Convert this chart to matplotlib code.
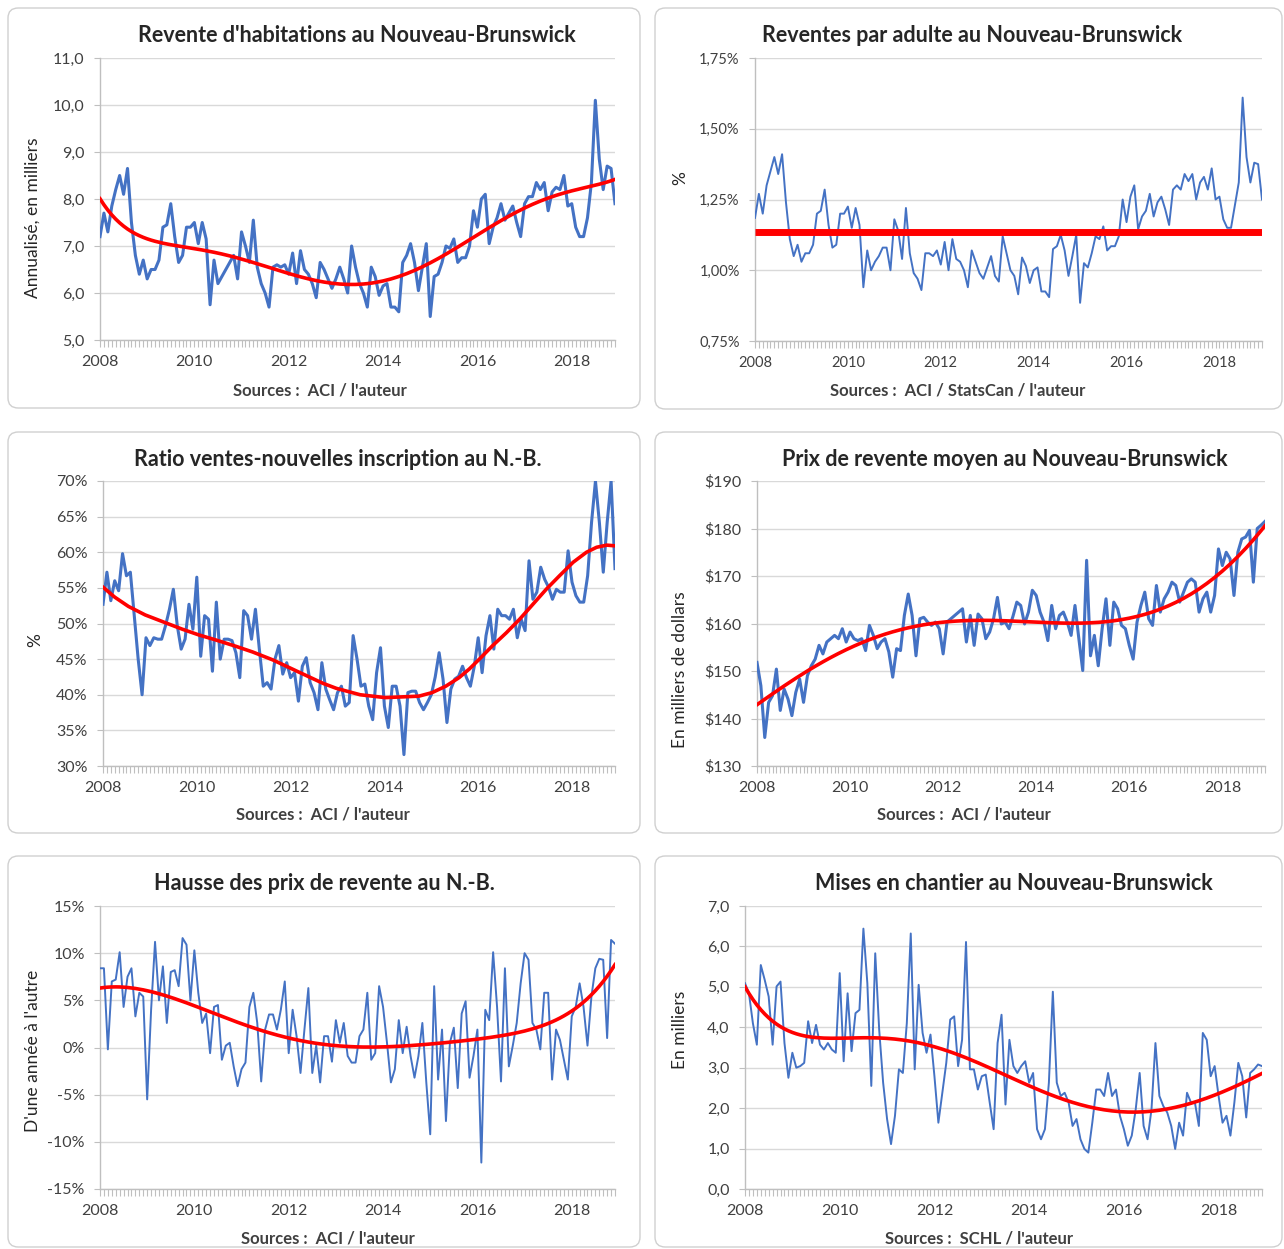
import numpy as np
import matplotlib
matplotlib.use("Agg")
import matplotlib.pyplot as plt
from matplotlib.patches import FancyBboxPatch
from matplotlib.ticker import FuncFormatter, FixedLocator

plt.rcParams['font.family'] = ['Lato', 'DejaVu Sans']

# ---------------- data (monthly, Jan 2008 - Dec 2018) ----------------
years = [2008, 2010, 2012, 2014, 2016, 2018]

resales_k = [
    7.2, 7.7, 7.3, 7.85, 8.2, 8.5, 8.1, 8.65, 7.5, 6.8, 6.4, 6.7,
    6.3, 6.5, 6.5, 6.7, 7.4, 7.45, 7.9, 7.2, 6.65, 6.8, 7.4, 7.4,
    7.5, 7.05, 7.5, 7.15, 5.75, 6.7, 6.2, 6.35, 6.5, 6.65, 6.8, 6.3,
    7.3, 7.0, 6.65, 7.55, 6.55, 6.2, 6.0, 5.7, 6.55, 6.6, 6.55, 6.6,
    6.4, 6.85, 6.2, 6.9, 6.5, 6.4, 6.2, 5.9, 6.65, 6.5, 6.3, 6.1,
    6.3, 6.55, 6.3, 6.0, 7.0, 6.55, 6.2, 6.0, 5.7, 6.55, 6.35, 5.95,
    6.15, 6.2, 5.7, 5.7, 5.6, 6.65, 6.8, 7.05, 6.65, 6.05, 6.55, 7.05,
    5.5, 6.35, 6.4, 6.65, 7.0, 6.95, 7.15, 6.65, 6.75, 6.75, 7.0, 7.75,
    7.4, 8.0, 8.1, 7.05, 7.4, 7.6, 7.9, 7.55, 7.7, 7.85, 7.5, 7.2,
    7.9, 8.05, 8.05, 8.35, 8.2, 8.35, 7.75, 8.15, 8.25, 8.2, 8.5, 7.85,
    7.9, 7.4, 7.2, 7.2, 7.6, 8.35, 10.1, 8.85, 8.2, 8.7, 8.65, 7.9,
]

resales_per_adult = [
    1.185, 1.27, 1.20, 1.30, 1.35, 1.40, 1.34, 1.41, 1.24, 1.11, 1.05, 1.09,
    1.03, 1.06, 1.06, 1.09, 1.20, 1.21, 1.285, 1.16, 1.08, 1.09, 1.20, 1.20,
    1.225, 1.15, 1.22, 1.16, 0.94, 1.07, 1.00, 1.03, 1.05, 1.08, 1.08, 1.00,
    1.18, 1.14, 1.04, 1.22, 1.06, 0.99, 0.97, 0.93, 1.06, 1.06, 1.05, 1.07,
    1.02, 1.10, 1.00, 1.11, 1.04, 1.03, 1.00, 0.94, 1.07, 1.03, 0.99, 0.97,
    1.01, 1.05, 0.98, 0.96, 1.12, 1.06, 1.00, 0.98, 0.915, 1.045, 1.015, 0.955,
    1.00, 1.01, 0.925, 0.925, 0.905, 1.075, 1.085, 1.125, 1.07, 0.98, 1.05, 1.125,
    0.885, 1.025, 1.01, 1.06, 1.12, 1.11, 1.155, 1.07, 1.085, 1.085, 1.12, 1.25,
    1.17, 1.26, 1.30, 1.145, 1.19, 1.21, 1.27, 1.19, 1.24, 1.26, 1.215, 1.16,
    1.285, 1.30, 1.285, 1.34, 1.315, 1.34, 1.25, 1.31, 1.33, 1.285, 1.36, 1.25,
    1.26, 1.18, 1.15, 1.15, 1.23, 1.31, 1.61, 1.40, 1.31, 1.38, 1.375, 1.25,
]
per_adult_average = 1.135

sales_to_listings = [
    52.7, 57.2, 53.2, 56.0, 54.6, 59.8, 56.7, 57.2, 51.1, 45.0, 40.0, 48.0,
    46.9, 48.0, 47.8, 47.8, 49.7, 52.0, 54.8, 49.7, 46.4, 47.8, 52.7, 49.2,
    56.5, 45.4, 51.1, 50.6, 43.3, 53.0, 45.0, 47.8, 47.8, 47.6, 45.9, 42.4,
    51.8, 51.1, 47.8, 52.0, 46.4, 41.2, 41.7, 40.8, 45.0, 46.9, 42.9, 44.5,
    42.4, 43.1, 39.1, 44.0, 45.2, 41.7, 40.3, 37.9, 44.5, 40.8, 39.3, 37.9,
    40.3, 41.2, 38.4, 38.9, 48.3, 45.0, 41.2, 41.5, 38.4, 36.5, 43.1, 46.6,
    38.4, 35.4, 41.2, 41.2, 38.4, 31.6, 40.3, 40.5, 40.5, 38.9, 37.9, 38.9,
    40.0, 42.5, 45.9, 42.2, 36.1, 40.8, 42.2, 42.6, 44.0, 42.4, 41.2, 44.0,
    48.0, 43.1, 48.3, 51.1, 46.4, 52.0, 51.1, 51.1, 50.6, 52.0, 48.0, 50.6,
    49.0, 58.8, 53.4, 54.4, 57.9, 56.2, 55.1, 53.4, 54.8, 54.4, 54.4, 60.2,
    55.8, 53.9, 53.0, 53.0, 56.7, 64.2, 70.0, 64.2, 57.2, 64.2, 70.0, 57.7,
]
# trend line (month index, value)
sales_to_listings_trend_month = [0, 3, 6.5, 10.8, 16, 20.3, 24.5, 28.8, 34, 38.3, 43.4,
                                 47.7, 51.2, 56.3, 59.7, 65.8, 72.2, 80.8, 84.2,
                                 87.7, 91.1, 93.7, 96.3, 99.7, 103.2, 106.6, 110,
                                 113.4, 116.8, 120.3, 123.7, 126.3, 128.9, 131]
sales_to_listings_trend = [55.1, 53.7, 52.4, 51.2, 50.1, 49.2, 48.4, 47.7, 46.8, 46.0, 44.9,
                           43.8, 42.9, 41.6, 40.9, 40.0, 39.6, 39.8, 40.3,
                           41.2, 42.4, 43.6, 45.0, 46.9, 48.7, 50.6, 52.7,
                           54.8, 56.7, 58.6, 60.0, 60.7, 61.0, 60.9]

avg_price_k = [
    151.8, 146.9, 136.0, 143.4, 144.8, 150.4, 141.7, 146.2, 144.1, 140.6, 145.5, 148.3,
    143.4, 149.0, 151.1, 152.5, 155.4, 153.6, 156.1, 156.8, 157.5, 156.8, 158.9, 156.1,
    158.2, 156.8, 156.4, 156.8, 154.3, 159.6, 157.5, 154.7, 156.1, 156.8, 154.0, 148.7,
    154.7, 154.3, 161.7, 166.2, 161.7, 153.2, 161.0, 161.3, 160.3, 159.6, 160.3, 158.9,
    153.6, 160.3, 161.0, 161.7, 162.4, 163.1, 156.1, 161.7, 155.4, 162.0, 161.0, 156.8,
    158.2, 161.0, 165.5, 159.9, 160.3, 158.9, 161.5, 164.5, 163.8, 159.9, 162.4, 167.0,
    165.9, 162.4, 160.3, 156.4, 163.8, 158.9, 161.7, 162.4, 160.3, 157.5, 163.8, 156.8,
    150.1, 173.3, 153.2, 157.5, 151.1, 158.9, 165.2, 155.4, 164.5, 163.1, 159.6, 158.9,
    155.4, 152.5, 160.3, 163.8, 166.6, 161.0, 159.6, 168.0, 162.4, 165.2, 166.6, 168.7,
    168.0, 164.5, 166.6, 168.7, 169.4, 168.7, 162.4, 165.2, 166.6, 162.4, 165.9, 175.7,
    172.2, 175.0, 173.6, 165.9, 175.0, 177.8, 178.2, 179.6, 168.7, 180.0, 180.7, 181.5,
]

price_growth = [
    8.4, 8.4, -0.2, 7.0, 7.2, 10.1, 4.3, 7.5, 8.4, 3.3, 5.8, 5.4,
    -5.5, 4.0, 11.2, 5.0, 8.6, 2.6, 8.0, 8.2, 6.5, 11.6, 10.9, 5.0,
    10.3, 5.8, 2.6, 3.6, -0.6, 4.3, 4.5, -1.3, 0.2, 0.5, -2.0, -4.1,
    -2.3, -1.6, 4.3, 5.8, 2.6, -3.6, 1.9, 3.5, 3.5, 1.9, 4.0, 7.0,
    -0.6, 4.0, 1.2, -2.7, 1.9, 6.3, -2.7, 0.2, -3.7, 1.2, 1.2, -1.5,
    2.9, 0.5, 2.6, -0.9, -1.6, -1.6, 1.2, 1.9, 5.8, -1.3, -0.6, 6.5,
    4.3, 0.5, -3.7, -2.3, 2.9, -0.6, 2.2, -0.9, -3.2, -0.9, 2.6, -3.7,
    -9.2, 6.5, -3.4, 1.9, -7.8, 0.5, 2.1, -4.3, 3.6, 4.9, -3.2, -0.9,
    1.9, -12.2, 4.0, 2.9, 10.1, 4.3, -3.6, 8.4, -2.0, 0.2, 2.6, 6.8,
    10.0, 9.3, 2.6, 1.9, -0.2, 5.8, 5.8, -3.4, 1.9, 0.8, -1.3, -3.4,
    3.3, 4.3, 6.8, 4.3, 0.2, 5.4, 8.4, 9.4, 9.3, 1.0, 11.4, 11.0,
]

housing_starts_k = [
    5.09, 4.84, 4.10, 3.57, 5.54, 5.17, 4.76, 3.57, 5.01, 5.13, 3.61, 2.75,
    3.37, 3.00, 3.04, 3.12, 4.15, 3.61, 4.06, 3.57, 3.45, 3.61, 3.45, 3.37,
    5.34, 3.16, 4.84, 3.41, 4.35, 4.43, 6.44, 5.09, 2.55, 5.83, 3.94, 2.63,
    1.73, 1.11, 1.81, 2.96, 2.87, 4.10, 6.32, 2.96, 5.05, 3.86, 3.37, 3.82,
    2.79, 1.64, 2.38, 3.12, 4.19, 4.27, 3.04, 3.69, 6.11, 2.96, 2.96, 2.46,
    2.79, 2.83, 2.14, 1.48, 3.61, 4.31, 2.09, 3.69, 3.04, 2.87, 3.04, 3.16,
    2.63, 2.87, 1.48, 1.23, 1.48, 2.63, 4.88, 2.63, 2.30, 2.38, 2.14, 1.56,
    1.73, 1.23, 0.99, 0.90, 1.64, 2.46, 2.46, 2.30, 2.87, 2.30, 2.46, 1.81,
    1.48, 1.07, 1.32, 1.97, 2.87, 1.56, 1.23, 1.97, 3.61, 2.30, 2.05, 1.89,
    1.56, 0.99, 1.64, 1.32, 2.38, 2.14, 2.14, 1.56, 3.86, 3.69, 2.79, 3.04,
    2.30, 1.64, 1.81, 1.32, 2.14, 3.12, 2.79, 1.77, 2.87, 2.96, 3.08, 3.04,
]

# ---------------- figure ----------------
W, H = 1284, 1249
fig = plt.figure(figsize=(W / 100, H / 100), dpi=100)

BLUE = '#4472C4'
RED = '#FF0000'
GRID = '#d9d9d9'
AXC = '#bfbfbf'
TXT = '#404040'


def rect(l, r, t, b):
    return [l / W, 1 - b / H, (r - l) / W, (b - t) / H]


def box(l, r, t, b):
    p = FancyBboxPatch((l / W, 1 - b / H), (r - l) / W, (b - t) / H,
                       boxstyle="round,pad=0,rounding_size=0.008",
                       transform=fig.transFigure, facecolor='none',
                       edgecolor='#d0d0d0', linewidth=1.0, zorder=-5)
    fig.patches.append(p)


def panel(axpos, values, ylim, ystep, fmt, title, title_xy, source, src_xy,
          ylabel, ylabel_xy, blue_lw=2.2, trend='fit', avg=None,
          red_lw=2.6, ticksize=11.5):
    l, r, t, b = axpos
    ax = fig.add_axes(rect(l, r, t, b))
    ax.patch.set_alpha(0)
    n = len(values)
    m = np.arange(n)
    ax.plot(m, values, color=BLUE, lw=blue_lw, zorder=3, solid_joinstyle='round')
    if trend == 'fit':
        p = np.polynomial.Polynomial.fit(m, values, 6)
        ax.plot(m, p(m), color=RED, lw=red_lw, zorder=4)
    elif trend is not None:
        tx, ty = trend
        ax.plot(tx, ty, color=RED, lw=red_lw, zorder=4, solid_joinstyle='round')
    if avg is not None:
        ax.plot([0, n - 1], [avg, avg], color=RED, lw=red_lw, zorder=4,
                solid_capstyle='butt')
    ax.set_xlim(0, n - 1)
    ax.set_ylim(*ylim)
    yt = np.arange(ylim[0], ylim[1] + ystep / 2, ystep)
    ax.yaxis.set_major_locator(FixedLocator(yt))
    ax.yaxis.set_major_formatter(FuncFormatter(lambda v, pos: fmt(v)))
    ax.xaxis.set_major_locator(FixedLocator([(y - 2008) * 12 for y in years]))
    ax.set_xticklabels([str(y) for y in years])
    ax.xaxis.set_minor_locator(FixedLocator(np.arange(0, n)))
    ax.grid(axis='y', color=GRID, lw=1.0, zorder=0)
    ax.set_axisbelow(True)
    for s in ['top', 'right']:
        ax.spines[s].set_visible(False)
    for s in ['left', 'bottom']:
        ax.spines[s].set_color(AXC)
        ax.spines[s].set_linewidth(1.0)
    ax.tick_params(axis='y', length=4, color=AXC, labelsize=ticksize,
                   labelcolor=TXT, pad=7)
    ax.tick_params(axis='x', which='major', length=5, color=AXC,
                   labelsize=ticksize, labelcolor=TXT, pad=6)
    ax.tick_params(axis='x', which='minor', length=5, color=AXC, width=0.8)
    fig.text(title_xy[0] / W, 1 - title_xy[1] / H, title, ha='center',
             va='center', fontsize=15.5, fontweight='bold', color='#262626')
    fig.text(src_xy[0] / W, 1 - src_xy[1] / H, source, ha='center',
             va='center', fontsize=12, fontweight='bold', color='#404040')
    fig.text(ylabel_xy[0] / W, 1 - ylabel_xy[1] / H, ylabel, ha='center',
             va='center', rotation=90, fontsize=12.5, color='#262626')
    return ax


# panel boxes
box(8, 640, 8, 408)
box(655, 1282, 8, 409)
box(8, 640, 432, 833)
box(655, 1282, 432, 833)
box(8, 640, 856, 1247)
box(655, 1282, 856, 1247)

comma1 = lambda v: f"{v:.1f}".replace('.', ',')

panel((100, 615, 58, 340), resales_k, (5, 11), 1.0, comma1,
      "Revente d'habitations au Nouveau-Brunswick", (357, 36),
      "Sources :  ACI / l'auteur", (320, 390),
      "Annualisé, en milliers", (33, 218))

panel((755, 1262, 58, 341), resales_per_adult, (0.75, 1.75), 0.25,
      lambda v: f"{v:.2f}".replace('.', ',') + "%",
      "Reventes par adulte au Nouveau-Brunswick", (972, 36),
      "Sources :  ACI / StatsCan / l'auteur", (958, 390),
      "%", (680, 178),
      blue_lw=1.4, trend=None, avg=per_adult_average, red_lw=5, ticksize=10.5)

panel((103, 615, 481, 766), sales_to_listings, (30, 70), 5.0,
      lambda v: f"{v:.0f}%",
      "Ratio ventes-nouvelles inscription au N.-B.", (338, 459),
      "Sources :  ACI / l'auteur", (323, 815),
      "%", (35, 640),
      trend=(sales_to_listings_trend_month, sales_to_listings_trend))

panel((757, 1265, 481, 766), avg_price_k, (130, 190), 10.0,
      lambda v: f"${v:.0f}",
      "Prix de revente moyen au Nouveau-Brunswick", (1005, 459),
      "Sources :  ACI / l'auteur", (964, 815),
      "En milliers de dollars", (680, 670))

panel((100, 615, 906, 1189), price_growth, (-15, 15), 5.0,
      lambda v: f"{v:.0f}%",
      "Hausse des prix de revente au N.-B.", (324, 883),
      "Sources :  ACI / l'auteur", (328, 1238),
      "D'une année à l'autre", (33, 1051), blue_lw=1.4)

panel((745, 1262, 906, 1189), housing_starts_k, (0, 7), 1.0, comma1,
      "Mises en chantier au Nouveau-Brunswick", (1014, 883),
      "Sources :  SCHL / l'auteur", (979, 1238),
      "En milliers", (680, 1030), blue_lw=1.4)

fig.savefig("out.png", dpi=100, facecolor='white')
